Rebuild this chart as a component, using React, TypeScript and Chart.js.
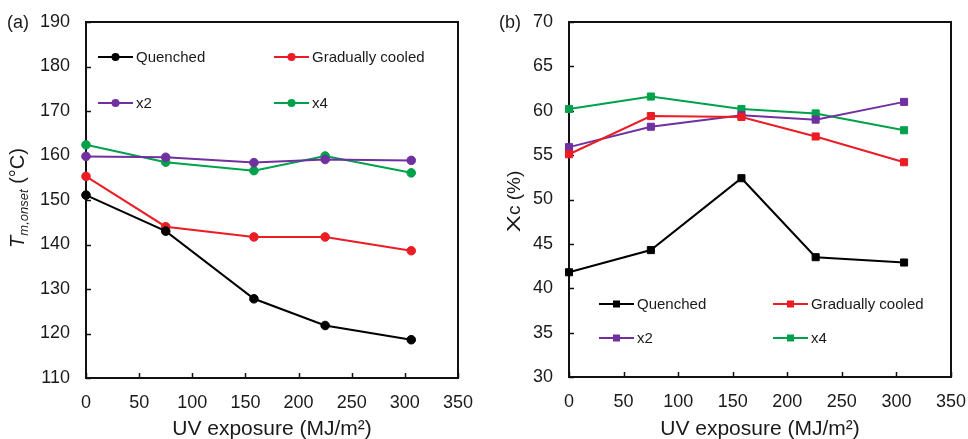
import React, { useEffect, useRef } from "react";
import { Chart, registerables } from "chart.js";

Chart.register(...registerables);

// ---------- data ----------
const seriesNames = ["Quenched", "Gradually cooled", "x2", "x4"];
const seriesColors = ["#000000", "#ec1c24", "#7030a0", "#00a14b"];

// panel (a): T_m,onset (°C) vs UV exposure
const uvA = [0, 75, 158, 225, 306];
const tmQuenched = [151.1, 143.0, 127.8, 121.8, 118.6];
const tmGradual = [155.3, 144.0, 141.7, 141.7, 138.6];
const tmX2 = [159.8, 159.6, 158.4, 159.1, 158.9];
const tmX4 = [162.4, 158.5, 156.6, 159.9, 156.1];

// panel (b): Xc (%) vs UV exposure
const uvB = [0, 75, 158, 226, 307];
const xcQuenched = [41.8, 44.3, 52.4, 43.5, 42.9];
const xcGradual = [55.1, 59.4, 59.3, 57.1, 54.2];
const xcX2 = [55.9, 58.2, 59.5, 59.0, 61.0];
const xcX4 = [60.2, 61.6, 60.2, 59.7, 57.8];

const xTicks = { min: 0, max: 350, step: 50 };
const yTicksA = { min: 110, max: 190, step: 10 };
const yTicksB = { min: 30, max: 70, step: 5 };

const FONT = "'Liberation Sans', Arial, Helvetica, sans-serif";
const TEXT = "#1a1a1a";

function makeDatasets(xs: number[], ys: number[][], style: string) {
  return ys.map((vals, i) => ({
    label: seriesNames[i],
    data: vals.map((v, j) => ({ x: xs[j], y: v })),
    borderColor: seriesColors[i],
    backgroundColor: seriesColors[i],
    pointBackgroundColor: seriesColors[i],
    pointBorderColor: seriesColors[i],
    borderWidth: 2,
    pointStyle: style,
    pointRadius: style === "rect" ? 5 : 4.3,
    pointBorderWidth: 1,
    tension: 0,
    clip: false as any,
  }));
}

const framePlugin = {
  id: "frame",
  beforeDatasetsDraw(chart: any) {
    const { ctx, chartArea: ca, scales } = chart;
    ctx.save();
    ctx.strokeStyle = "#111";
    ctx.lineWidth = 1.5;
    ctx.beginPath();
    scales.x.ticks.forEach((t: any) => {
      const px = Math.round(scales.x.getPixelForValue(t.value)) + 0.5;
      ctx.moveTo(px, ca.bottom);
      ctx.lineTo(px, ca.bottom - 5);
    });
    scales.y.ticks.forEach((t: any) => {
      const py = Math.round(scales.y.getPixelForValue(t.value)) + 0.5;
      ctx.moveTo(ca.left, py);
      ctx.lineTo(ca.left + 5, py);
    });
    ctx.stroke();
    ctx.lineWidth = 2;
    ctx.strokeRect(ca.left, ca.top, ca.right - ca.left, ca.bottom - ca.top);
    ctx.restore();
  },
  afterDraw(chart: any, _args: any, opts: any) {
    const { ctx, chartArea: ca } = chart;
    ctx.save();
    // legend (2 x 2)
    const datasets = chart.data.datasets;
    datasets.forEach((ds: any, i: number) => {
      const col = i % 2;
      const row = Math.floor(i / 2);
      const x0 = opts.legendCols[col];
      const y0 = opts.legendRows[row];
      ctx.strokeStyle = ds.borderColor;
      ctx.fillStyle = ds.borderColor;
      ctx.lineWidth = 2;
      ctx.beginPath();
      ctx.moveTo(x0, y0);
      ctx.lineTo(x0 + 35, y0);
      ctx.stroke();
      const cx = x0 + 17.5;
      if (ds.pointStyle === "rect") {
        ctx.fillRect(cx - 3.5, y0 - 3.5, 7, 7);
      } else {
        ctx.beginPath();
        ctx.arc(cx, y0, 4, 0, Math.PI * 2);
        ctx.fill();
      }
      ctx.fillStyle = TEXT;
      ctx.font = `15px ${FONT}`;
      ctx.textBaseline = "middle";
      ctx.textAlign = "left";
      ctx.fillText(ds.label, x0 + 38, y0 + 1);
    });

    // panel label
    ctx.fillStyle = TEXT;
    ctx.font = `18px ${FONT}`;
    ctx.textBaseline = "middle";
    ctx.textAlign = "left";
    ctx.fillText(opts.panel, opts.panelX, ca.top + 1);

    // y title (rotated, rich text)
    const parts = opts.yTitle as { t: string; font: string; dy: number; sx?: number }[];
    let total = 0;
    parts.forEach((p) => {
      ctx.font = p.font;
      total += ctx.measureText(p.t).width * (p.sx || 1);
    });
    ctx.translate(opts.yTitleX, (ca.top + ca.bottom) / 2 + (opts.yTitleDy || 0));
    ctx.rotate(-Math.PI / 2);
    ctx.textBaseline = "alphabetic";
    let x = -total / 2;
    parts.forEach((p) => {
      ctx.font = p.font;
      const w = ctx.measureText(p.t).width;
      ctx.save();
      ctx.translate(x, p.dy);
      ctx.scale(p.sx || 1, 1);
      ctx.fillText(p.t, 0, 0);
      ctx.restore();
      x += w * (p.sx || 1);
    });
    ctx.restore();
  },
};

function buildConfig(
  datasets: any[],
  yT: { min: number; max: number; step: number },
  layout: { top: number; right: number; yWidth: number; xHeight: number },
  frameOpts: any
) {
  return {
    type: "line" as const,
    data: { datasets },
    options: {
      animation: false as const,
      responsive: false,
      layout: { padding: { top: layout.top, right: layout.right, left: 0, bottom: 0 } },
      plugins: {
        legend: { display: false },
        tooltip: { enabled: false },
        frame: frameOpts,
      },
      scales: {
        x: {
          type: "linear" as const,
          min: xTicks.min,
          max: xTicks.max,
          ticks: { stepSize: xTicks.step, color: TEXT, font: { family: FONT, size: 18 }, padding: 14, maxRotation: 0 },
          grid: { display: false, drawTicks: false },
          border: { display: false },
          title: {
            display: true,
            text: "UV exposure (MJ/m²)",
            color: TEXT,
            font: { family: FONT, size: 21 },
            padding: { top: 0, bottom: -3 },
          },
          afterFit: (s: any) => {
            s.height = layout.xHeight;
            s.paddingLeft = 0;
            s.paddingRight = 0;
          },
        },
        y: {
          type: "linear" as const,
          min: yT.min,
          max: yT.max,
          ticks: { stepSize: yT.step, color: TEXT, font: { family: FONT, size: 18 }, padding: 16 },
          grid: { display: false, drawTicks: false },
          border: { display: false },
          afterFit: (s: any) => {
            s.width = layout.yWidth;
            s.paddingTop = 0;
            s.paddingBottom = 0;
          },
        },
      },
    },
    plugins: [framePlugin],
  };
}

function ChartCanvas({ config }: { config: any }) {
  const ref = useRef<HTMLCanvasElement | null>(null);
  useEffect(() => {
    if (!ref.current) return;
    const chart = new Chart(ref.current, config);
    return () => chart.destroy();
  }, [config]);
  return <canvas ref={ref} width={484} height={439} style={{ display: "block", width: 484, height: 439 }} />;
}

const configA = buildConfig(
  makeDatasets(uvA, [tmQuenched, tmGradual, tmX2, tmX4], "circle"),
  yTicksA,
  { top: 22, right: 26, yWidth: 86, xHeight: 61 },
  {
    legendCols: [98, 274],
    legendRows: [57, 103],
    panel: "(a)",
    panelX: 7,
    yTitleX: 24,
    yTitleDy: -2,
    yTitle: [
      { t: "T", font: `italic 20px ${FONT}`, dy: 0 },
      { t: "m,onset", font: `italic 13px ${FONT}`, dy: 4 },
      { t: " (°C)", font: `20px ${FONT}`, dy: 0 },
    ],
  }
);

const configB = buildConfig(
  makeDatasets(uvB, [xcQuenched, xcGradual, xcX2, xcX4], "rect"),
  yTicksB,
  { top: 22, right: 17, yWidth: 85, xHeight: 62 },
  {
    legendCols: [115, 289],
    legendRows: [304, 338],
    panel: "(b)",
    panelX: 15,
    yTitleX: 36,
    yTitleDy: 2,
    yTitle: [
      { t: "X", font: `19px ${FONT}`, dy: 0, sx: 1.35 },
      { t: "c", font: `19px ${FONT}`, dy: 0 },
      { t: " (%)", font: `19px ${FONT}`, dy: 0 },
    ],
  }
);

export default function App() {
  return (
    <div
      style={{
        position: "absolute",
        left: 0,
        top: 0,
        width: 968,
        height: 439,
        display: "flex",
        background: "#ffffff",
      }}
    >
      <ChartCanvas config={configA} />
      <ChartCanvas config={configB} />
    </div>
  );
}
